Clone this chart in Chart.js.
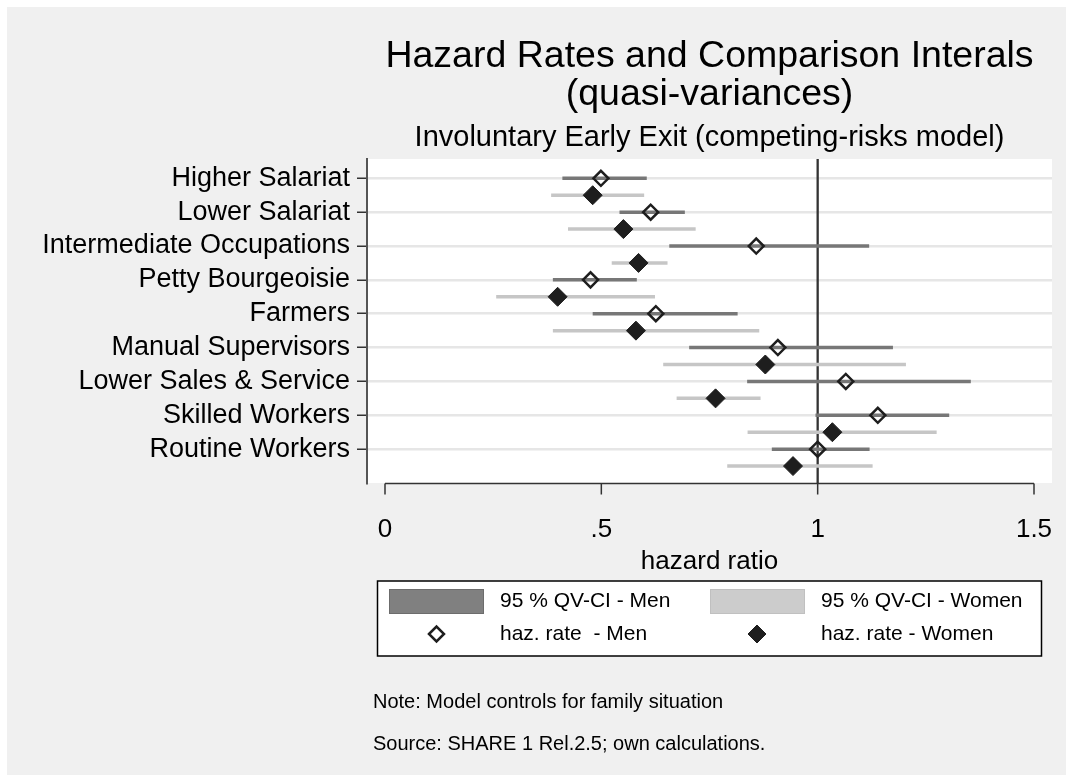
<!DOCTYPE html>
<html>
<head>
<meta charset="utf-8">
<script src="https://cdn.jsdelivr.net/npm/chart.js@4.4.1/dist/chart.umd.min.js"></script>
<style>
  html, body { margin: 0; padding: 0; background: #fff; }
  #wrap { width: 1073px; height: 782px; }
</style>
</head>
<body>
<div id="wrap"><canvas id="chart" width="1073" height="782"></canvas></div>
<script>
const categories = ['Higher Salariat', 'Lower Salariat', 'Intermediate Occupations', 'Petty Bourgeoisie',
  'Farmers', 'Manual Supervisors', 'Lower Sales & Service', 'Skilled Workers', 'Routine Workers']

// hazard ratios + quasi-variance comparison intervals
const menRate = [0.499, 0.614, 0.858, 0.475, 0.626, 0.908, 1.065, 1.139, 1.000]
const menLo   = [0.410, 0.542, 0.657, 0.388, 0.480, 0.703, 0.837, 0.995, 0.894]
const menHi   = [0.605, 0.693, 1.119, 0.582, 0.815, 1.174, 1.354, 1.304, 1.120]
const womenRate = [0.480, 0.551, 0.586, 0.399, 0.580, 0.879, 0.764, 1.034, 0.943]
const womenLo   = [0.384, 0.423, 0.524, 0.257, 0.388, 0.643, 0.674, 0.838, 0.791]
const womenHi   = [0.599, 0.718, 0.653, 0.624, 0.865, 1.204, 0.868, 1.275, 1.127]

const xTickValues = [0, 0.5, 1, 1.5]
const xTickLabels = ['0', '.5', '1', '1.5']
const refValue = 1

const legendLabels = ['95 % QV-CI - Men', '95 % QV-CI - Women', 'haz. rate  - Men', 'haz. rate - Women']
const notes = ['Note: Model controls for family situation', 'Source: SHARE 1 Rel.2.5; own calculations.']

const FONT = "'Liberation Sans', Arial, Helvetica, sans-serif"
const womenShift = 0.5

const ciData = (lo, hi, shift) => lo.flatMap((v, i) => [
  {x: v, y: i + shift}, {x: hi[i], y: i + shift}, {x: hi[i], y: null}
])
const rateData = (rate, shift) => rate.map((v, i) => ({x: v, y: i + shift}))

const background = {
  id: 'background',
  beforeDraw(chart) {
    const {ctx, chartArea} = chart
    ctx.save()
    ctx.fillStyle = '#ffffff'
    ctx.fillRect(0, 0, chart.width, chart.height)
    ctx.fillStyle = '#f0f0f0'
    ctx.fillRect(7, 7, chart.width - 14, chart.height - 14)
    ctx.fillStyle = '#ffffff'
    ctx.fillRect(chartArea.left, chartArea.top, chartArea.right - chartArea.left, chartArea.bottom - chartArea.top)
    ctx.restore()
  }
}

const refLine = {
  id: 'refLine',
  beforeDatasetsDraw(chart) {
    const {ctx, chartArea, scales} = chart
    const x = scales.x.getPixelForValue(refValue)
    ctx.save()
    ctx.strokeStyle = '#333333'
    ctx.lineWidth = 2.3
    ctx.beginPath()
    ctx.moveTo(x, chartArea.top)
    ctx.lineTo(x, chartArea.bottom)
    ctx.stroke()
    ctx.restore()
  }
}

// stata style x axis: line only between first and last tick
const xAxisLine = {
  id: 'xAxisLine',
  afterDraw(chart) {
    const {ctx, chartArea, scales} = chart
    const y = chartArea.bottom + 0.5
    const x0 = scales.x.getPixelForValue(xTickValues[0])
    const x1 = scales.x.getPixelForValue(xTickValues[xTickValues.length - 1])
    ctx.save()
    ctx.strokeStyle = '#333333'
    ctx.lineWidth = 1.5
    ctx.beginPath()
    ctx.moveTo(x0, y)
    ctx.lineTo(x1, y)
    xTickValues.forEach((v) => {
      const x = scales.x.getPixelForValue(v)
      ctx.moveTo(x, y)
      ctx.lineTo(x, y + 11)
    })
    ctx.stroke()
    ctx.restore()
  }
}

const legendBox = {
  id: 'legendBox',
  afterDraw(chart) {
    const ctx = chart.ctx
    ctx.save()
    ctx.fillStyle = '#ffffff'
    ctx.fillRect(377.5, 581, 664, 75)
    ctx.strokeStyle = '#000000'
    ctx.lineWidth = 1.5
    ctx.strokeRect(377.5, 581, 664, 75)

    ctx.lineWidth = 1
    ctx.fillStyle = '#808080'
    ctx.fillRect(389, 589, 95, 25)
    ctx.strokeStyle = '#6c6c6c'
    ctx.strokeRect(389.5, 589.5, 94, 24)
    ctx.fillStyle = '#cccccc'
    ctx.fillRect(710, 589, 95, 25)
    ctx.strokeStyle = '#c0c0c0'
    ctx.strokeRect(710.5, 589.5, 94, 24)

    ctx.strokeStyle = '#1e1e1e'
    ctx.fillStyle = 'rgba(0,0,0,0)'
    ctx.lineWidth = 2.5
    Chart.helpers.drawPoint(ctx, {pointStyle: 'rectRot', radius: 7.5, borderWidth: 2.5}, 436.5, 634)
    ctx.fillStyle = '#1e1e1e'
    ctx.lineWidth = 1
    Chart.helpers.drawPoint(ctx, {pointStyle: 'rectRot', radius: 9, borderWidth: 1}, 757, 634)

    ctx.fillStyle = '#000000'
    ctx.font = `21px ${FONT}`
    ctx.textBaseline = 'middle'
    ctx.textAlign = 'left'
    ctx.fillText(legendLabels[0], 500, 601)
    ctx.fillText(legendLabels[1], 821, 601)
    ctx.fillText(legendLabels[2], 500, 634)
    ctx.fillText(legendLabels[3], 821, 634)

    ctx.font = `20px ${FONT}`
    ctx.fillText(notes[0], 373, 702)
    ctx.fillText(notes[1], 373, 744)
    ctx.restore()
  }
}

const chart = new Chart(document.querySelector('#chart'), {
  type: 'scatter',
  plugins: [background, refLine, xAxisLine, legendBox],
  data: {
    datasets: [
      {
        label: legendLabels[2],
        data: rateData(menRate, 0),
        pointStyle: 'rectRot',
        pointRadius: 7.5,
        pointBorderWidth: 2.5,
        pointBorderColor: '#1e1e1e',
        pointBackgroundColor: 'rgba(0,0,0,0)',
      },
      {
        label: legendLabels[3],
        data: rateData(womenRate, womenShift),
        pointStyle: 'rectRot',
        pointRadius: 9.5,
        pointBorderWidth: 1,
        pointBorderColor: '#1e1e1e',
        pointBackgroundColor: '#1e1e1e',
      },
      {
        label: legendLabels[0],
        data: ciData(menLo, menHi, 0),
        showLine: true,
        borderColor: '#777777',
        borderWidth: 3.5,
        borderCapStyle: 'butt',
        pointRadius: 0,
      },
      {
        label: legendLabels[1],
        data: ciData(womenLo, womenHi, womenShift),
        showLine: true,
        borderColor: '#c6c6c6',
        borderWidth: 3.5,
        borderCapStyle: 'butt',
        pointRadius: 0,
      },
    ]
  },
  options: {
    responsive: false,
    animation: false,
    events: [],
    layout: {
      padding: {left: 0, right: 21, top: 0, bottom: 182}
    },
    scales: {
      x: {
        type: 'linear',
        min: -0.0416,
        max: 1.5416,
        afterBuildTicks: (scale) => {
          scale.ticks = xTickValues.map((v) => ({value: v}))
        },
        afterFit: (scale) => {
          scale.height = 117
          scale.paddingLeft = 0
          scale.paddingRight = 0
        },
        grid: {display: false, drawTicks: false},
        border: {display: false},
        ticks: {
          padding: 31,
          color: '#000',
          font: {family: FONT, size: 26},
          maxRotation: 0,
          autoSkip: false,
          callback: (value, index) => xTickLabels[index],
        },
        title: {
          display: true,
          text: 'hazard ratio',
          color: '#000',
          font: {family: FONT, size: 26},
          padding: {top: 0, bottom: 23},
        },
      },
      y: {
        type: 'linear',
        reverse: true,
        min: -0.57,
        max: 9.0,
        afterBuildTicks: (scale) => {
          scale.ticks = categories.map((c, i) => ({value: i}))
        },
        afterFit: (scale) => {
          scale.width = 367
          scale.paddingTop = 0
          scale.paddingBottom = 0
        },
        grid: {
          color: '#e6e6e6',
          lineWidth: 2.5,
          tickLength: 10,
          tickColor: '#333333',
          tickWidth: 1.5,
        },
        border: {display: true, color: '#555555', width: 2},
        ticks: {
          padding: 7,
          color: '#000',
          font: {family: FONT, size: 27},
          autoSkip: false,
          callback: (value) => categories[value],
        },
      }
    },
    plugins: {
      legend: {display: false},
      tooltip: {enabled: false},
      title: {
        display: true,
        fullSize: false,
        text: ['Hazard Rates and Comparison Interals', '(quasi-variances)'],
        color: '#000',
        font: {family: FONT, size: 37.5, weight: 'normal', lineHeight: 1.0},
        padding: {top: 38, bottom: 10.5},
      },
      subtitle: {
        display: true,
        fullSize: false,
        text: 'Involuntary Early Exit (competing-risks model)',
        color: '#000',
        font: {family: FONT, size: 29, weight: 'normal', lineHeight: 1.0},
        padding: {top: 0, bottom: 6.5},
      },
    },
  },
})
</script>
</body>
</html>
